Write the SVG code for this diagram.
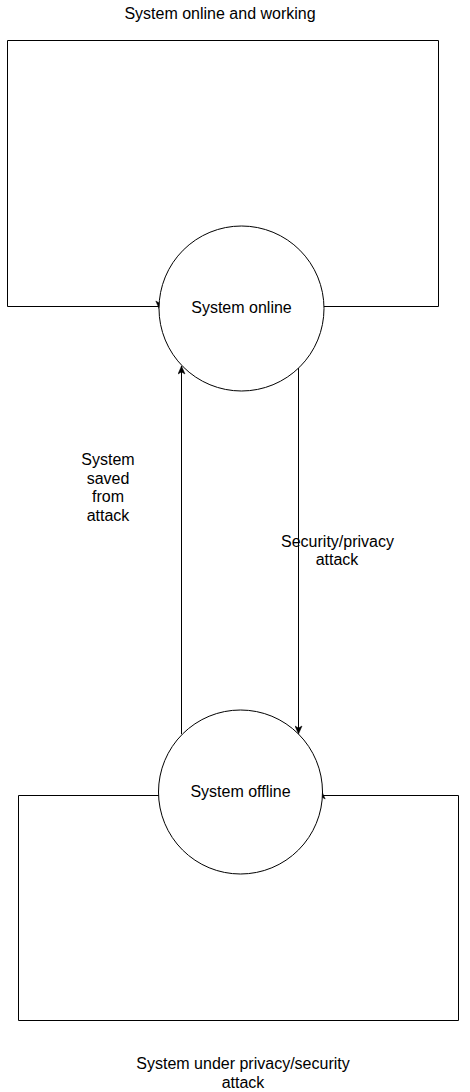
<svg xmlns="http://www.w3.org/2000/svg" width="470" height="1092" viewBox="0 0 470 1092">
  <style>
    .node { fill: #ffffff; stroke: #000000; stroke-width: 1; }
    .edge { fill: none; stroke: #000000; stroke-width: 1; }
    .lbl { font-family: "Liberation Sans", Arial, sans-serif; font-size: 16px; fill: #000000; text-anchor: middle; }
  </style>
  <defs>
    <marker id="arr" viewBox="0 0 10 8" refX="9" refY="4" markerWidth="10" markerHeight="8" orient="auto" markerUnits="userSpaceOnUse">
      <path d="M1,0.5 L9,4 L1,7.5 L3,4 Z" fill="#000000" stroke="#000000" stroke-width="0.5"/>
    </marker>
  </defs>
  <rect width="470" height="1092" fill="#ffffff"/>

  <g id="connectors">
    <path class="edge" d="M324,306.5 H438.5 V40.5 H7.5 V306.5 H159.3 V309" marker-end="url(#arr)"/>
    <path class="edge" d="M159,795.5 H18.5 V1020.5 H458.5 V795.5 H321.7 V791" marker-end="url(#arr)"/>
    <path class="edge" d="M181.5,734 V366" marker-end="url(#arr)"/>
    <path class="edge" d="M298.5,368 V734" marker-end="url(#arr)"/>
  </g>

  <g id="node-online">
    <circle class="node" cx="241.5" cy="308.5" r="82.5"/>
    <text class="lbl" x="241.5" y="313">System online</text>
  </g>

  <g id="node-offline">
    <circle class="node" cx="240.5" cy="792" r="82"/>
    <text class="lbl" x="240.5" y="797">System offline</text>
  </g>

  <g id="label-top">
    <text class="lbl" x="220" y="18.5">System online and working</text>
  </g>

  <g id="label-bottom">
    <text class="lbl" x="243" y="1069">System under privacy/security</text>
    <text class="lbl" x="243" y="1088">attack</text>
  </g>

  <g id="label-saved">
    <text class="lbl" x="108" y="465">System</text>
    <text class="lbl" x="108" y="483.6">saved</text>
    <text class="lbl" x="108" y="502.2">from</text>
    <text class="lbl" x="108" y="520.8">attack</text>
  </g>

  <g id="label-attack">
    <text class="lbl" x="337.5" y="546.7">Security/privacy</text>
    <text class="lbl" x="337" y="565.3">attack</text>
  </g>
</svg>
